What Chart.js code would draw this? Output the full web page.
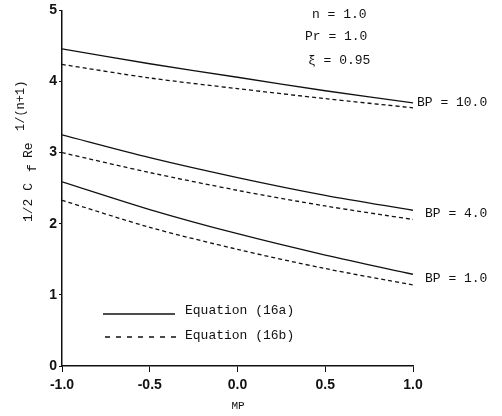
<!DOCTYPE html>
<html lang="en">
<head>
  <meta charset="UTF-8">
  <title>Skin friction vs MP</title>
  <script src="https://cdn.jsdelivr.net/npm/chart.js"></script>
  <style>
    html, body { margin: 0; padding: 0; background: #fff; }
    #wrap { width: 502px; height: 416px; }
  </style>
</head>
<body>
  <div id="wrap"><canvas id="cf"></canvas></div>

  <script>
    // MP values along the x axis
    const mp = [-1.0, -0.5, 0.0, 0.5, 1.0];

    // Equation (16a) - solid lines
    const eqA_bp10 = [4.46, 4.25, 4.06, 3.87, 3.70];
    const eqA_bp4  = [3.25, 2.93, 2.65, 2.40, 2.19];
    const eqA_bp1  = [2.59, 2.20, 1.86, 1.56, 1.29];

    // Equation (16b) - dashed lines
    const eqB_bp10 = [4.24, 4.05, 3.90, 3.76, 3.63];
    const eqB_bp4  = [3.00, 2.72, 2.47, 2.25, 2.06];
    const eqB_bp1  = [2.33, 1.95, 1.64, 1.37, 1.14];

    const xTicks = ['-1.0', '-0.5', '0.0', '0.5', '1.0'];
    const bpLabels = ['BP = 10.0', 'BP = 4.0', 'BP = 1.0'];

    const mono = '"Liberation Mono", "DejaVu Sans Mono", monospace';

    function series(vals, dashed) {
      return {
        data: vals.map((v, i) => ({ x: mp[i], y: v })),
        borderColor: '#111',
        borderWidth: 1.3,
        borderDash: dashed ? [4, 3] : [],
        pointRadius: 0,
        tension: 0.3,
        fill: false
      };
    }

    // text annotations, axis title and legend samples
    const annotate = {
      id: 'annotate',
      afterDraw(chart) {
        const c = chart.ctx;
        c.save();
        c.fillStyle = '#111';
        c.strokeStyle = '#111';
        c.textBaseline = 'middle';
        c.textAlign = 'left';
        c.font = '13px ' + mono;
        c.fillText('n = 1.0', 312, 15);
        c.fillText('Pr = 1.0', 305, 37);
        c.fillText('\u03be = 0.95', 308, 61);

        c.fillText(bpLabels[0], 417, 103);
        c.fillText(bpLabels[1], 425, 214);
        c.fillText(bpLabels[2], 425, 279);

        // legend
        c.lineWidth = 1.3;
        c.beginPath(); c.moveTo(103, 314); c.lineTo(175, 314); c.stroke();
        c.setLineDash([5, 6]);
        c.beginPath(); c.moveTo(105, 337); c.lineTo(177, 337); c.stroke();
        c.setLineDash([]);
        c.fillText('Equation (16a)', 185, 311);
        c.fillText('Equation (16b)', 185, 336);

        // x title
        c.font = '11px ' + mono;
        c.textAlign = 'center';
        c.fillText('MP', 238, 406);

        // y title, rotated
        c.save();
        c.translate(32, 222);
        c.rotate(-Math.PI / 2);
        c.textBaseline = 'alphabetic';
        c.textAlign = 'left';
        c.font = '13px ' + mono;
        c.fillText('1/2 C', 0, 0);
        c.fillText('f', 50, 4);
        c.fillText('Re', 64, 0);
        c.font = '12px ' + mono;
        c.fillText('1/(n+1)', 91, -8);
        c.restore();
        c.restore();
      }
    };

    new Chart(document.getElementById('cf'), {
      type: 'line',
      data: {
        datasets: [
          series(eqA_bp10, false), series(eqB_bp10, true),
          series(eqA_bp4, false),  series(eqB_bp4, true),
          series(eqA_bp1, false),  series(eqB_bp1, true)
        ]
      },
      options: {
        responsive: true,
        maintainAspectRatio: false,
        animation: false,
        layout: { padding: { top: 9, right: 89, left: 0, bottom: 0 } },
        plugins: { legend: { display: false }, tooltip: { enabled: false } },
        scales: {
          x: {
            type: 'linear',
            min: -1, max: 1,
            afterFit: s => { s.height = 50; },
            border: { display: true, color: '#111', width: 1.5 },
            grid: { drawOnChartArea: false, tickLength: 6, color: '#111' },
            ticks: {
              stepSize: 0.5,
              padding: 5,
              color: '#111',
              font: { family: '"Liberation Sans", Arial, sans-serif', size: 14, weight: 'bold' },
              callback: (v, i) => xTicks[i]
            }
          },
          y: {
            min: 0, max: 5,
            afterFit: s => { s.width = 62; },
            border: { display: true, color: '#111', width: 1.5 },
            grid: { drawOnChartArea: false, tickLength: 3, color: '#111' },
            ticks: {
              stepSize: 1,
              padding: 2,
              color: '#111',
              font: { family: '"Liberation Sans", Arial, sans-serif', size: 14, weight: 'bold' }
            }
          }
        }
      },
      plugins: [annotate]
    });
  </script>
</body>
</html>
